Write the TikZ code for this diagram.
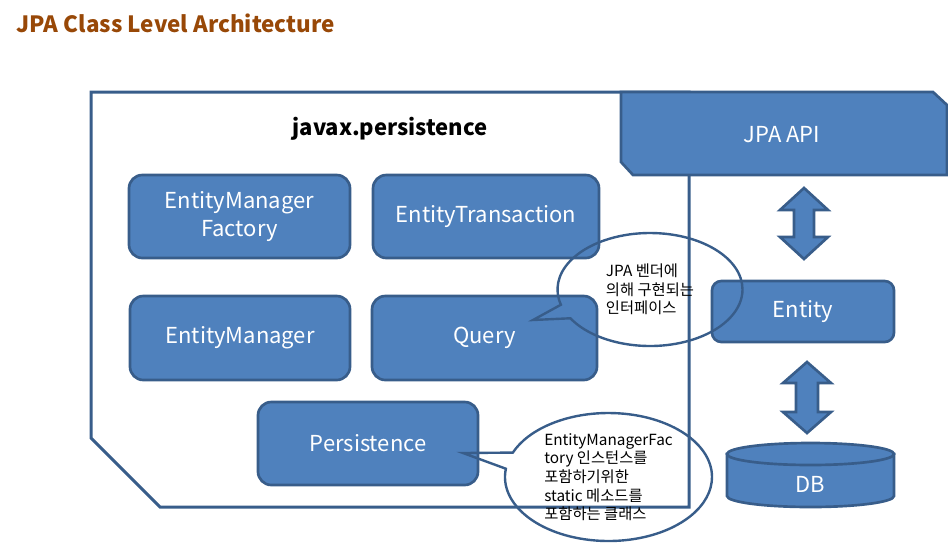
\documentclass[tikz,border=0pt]{standalone}
\usepackage{fontspec}
\setmainfont{Noto Sans CJK KR}
\usetikzlibrary{shapes.callouts}
\definecolor{boxfill}{RGB}{79,129,189}
\definecolor{boxline}{RGB}{56,93,138}
\definecolor{titlebrown}{RGB}{152,72,7}
\begin{document}
\begin{tikzpicture}[x=0.75pt,y=-0.75pt,
		block/.style={draw=boxline,fill=boxfill,line width=2pt},
		cls/.style={block,rounded corners=10pt,text=white,align=center,inner sep=0pt,font=\fontsize{16.5}{21}\selectfont},
		note/.style={ellipse callout,draw=boxline,line width=1.8pt,align=left,inner sep=0pt,font=\fontsize{11.5}{14}\selectfont}]
		\useasboundingbox (0,0) rectangle (948,544);
		\node[anchor=west,text=titlebrown,font=\fontsize{16.8}{20}\selectfont\bfseries](title) at (12,23){JPA Class Level Architecture};
		% package outline and api box
		\draw[boxline,line width=2.25pt] (91,92) -- (689,92) -- (689,507) -- (160,507) -- (91,438) -- cycle;
		\draw[block] (621,92) -- (933,92) -- (947,105) -- (947,175) -- (633,175) -- (621,162) -- cycle;
		\node[text=white,font=\fontsize{16.5}{21}\selectfont](api) at (782,135){JPA API};
		\node[font=\fontsize{16.5}{20}\selectfont\bfseries](pkg) at (390,129){javax.persistence};
		% classes
		\node[cls,minimum width=165.75pt,minimum height=62.25pt](emf) at (239.5,216.5){EntityManager\\Factory};
		\node[cls,minimum width=169.5pt,minimum height=62.25pt](et) at (486,216.5){EntityTransaction};
		\node[cls,minimum width=165pt,minimum height=63pt](em) at (240,338){EntityManager};
		\node[cls,minimum width=168.75pt,minimum height=63pt](query) at (484.5,338){Query};
		\node[cls,minimum width=165pt,minimum height=62.25pt](persistence) at (368,443.5){Persistence};
		\node[cls,rounded corners=7pt,minimum width=136.5pt,minimum height=45.75pt](entity) at (803,311.5){Entity};
		% double arrows
		\draw[block] (804,188) -- ++(24,22) -- ++(-14,0) -- ++(0,27) -- ++(14,0) -- ++(-24,22) -- ++(-24,-22) -- ++(14,0) -- ++(0,-27) -- ++(-14,0) -- cycle;
		\draw[block] (807,362) -- ++(24,21) -- ++(-13,0) -- ++(0,29) -- ++(13,0) -- ++(-24,21) -- ++(-24,-21) -- ++(13,0) -- ++(0,-29) -- ++(-13,0) -- cycle;
		% db
		\draw[block] (727,454) -- (727,496) arc[start angle=180,end angle=0,x radius=83.5,y radius=11] -- (894,454) -- cycle;
		\draw[block] (810.5,454) ellipse [x radius=83.5,y radius=11];
		\node[text=white,font=\fontsize{16.5}{21}\selectfont](db) at (810.5,484){DB};
		% notes
		\coordinate (qtip) at (533,320);
		\coordinate (ptip) at (463,453);
		\node[note,minimum width=138.75pt,minimum height=84.75pt,callout absolute pointer={(qtip)}](vendor) at (650,289.5){JPA 벤더에\\의해 구현되는\\인터페이스};
		\node[note,minimum width=155.25pt,minimum height=96pt,callout absolute pointer={(ptip)}](factory) at (608.5,477){EntityManagerFac\\tory 인스턴스를\\포함하기위한\\static 메소드를\\포함하는 클래스};
	\end{tikzpicture}
\end{document}
